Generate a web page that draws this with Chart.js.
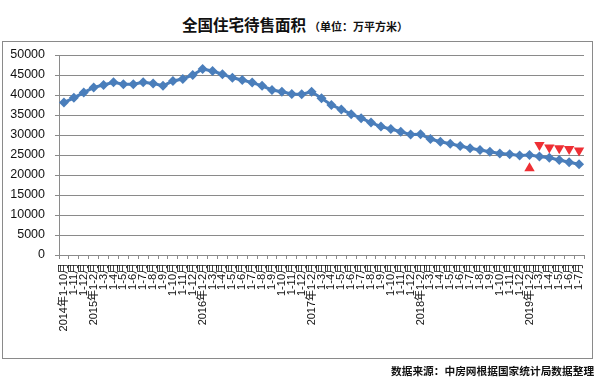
<!DOCTYPE html>
<html>
<head>
<meta charset="utf-8">
<script src="https://cdn.jsdelivr.net/npm/chart.js@4.4.1/dist/chart.umd.min.js"></script>
<style>
  html, body { margin:0; padding:0; background:#fff; }
  #wrap { position:relative; width:600px; height:382px; overflow:hidden; }
  #frame { position:absolute; left:2px; top:41px; width:591px; height:318px; border:1px solid #8a8a8a; box-sizing:border-box; }
  #title { position:absolute; left:0; top:15px; width:600px; text-align:left; white-space:nowrap;
           font-family:"Noto Sans CJK SC", sans-serif; font-weight:bold; color:#111; }
  #title .main { position:absolute; left:182px; top:0; font-size:15.5px; line-height:18px; }
  #title .sub { position:absolute; left:309px; top:4px; font-size:11px; line-height:14px; }
  #source { position:absolute; left:391px; top:363px; font-family:"Noto Sans CJK SC", sans-serif;
            font-weight:bold; font-size:10.7px; line-height:16px; color:#111; white-space:nowrap; }
  canvas { position:absolute; left:0; top:0; }
</style>
</head>
<body>
<div id="wrap">
  <div id="frame"></div>
  <div id="title"><span class="main">全国住宅待售面积</span><span class="sub">（单位：万平方米）</span></div>
  <canvas id="c" width="600" height="382"></canvas>
  <div id="source">数据来源：中房网根据国家统计局数据整理</div>
</div>
<script>
// ---- data ----
const categories = [
  '2014年1-10月','1-11月','1-12月',
  '2015年1-2月','1-3月','1-4月','1-5月','1-6月','1-7月','1-8月','1-9月','1-10月','1-11月','1-12月',
  '2016年1-2月','1-3月','1-4月','1-5月','1-6月','1-7月','1-8月','1-9月','1-10月','1-11月','1-12月',
  '2017年1-2月','1-3月','1-4月','1-5月','1-6月','1-7月','1-8月','1-9月','1-10月','1-11月','1-12月',
  '2018年1-2月','1-3月','1-4月','1-5月','1-6月','1-7月','1-8月','1-9月','1-10月','1-11月','1-12月',
  '2019年1-2月','1-3月','1-4月','1-5月','1-6月','1-7月'
];
const areaForSale = [
  38100, 39300, 40600,
  41900, 42500, 43200, 42700, 42700, 43200, 42900, 42300, 43500, 44000, 45000,
  46500, 46000, 45200, 44300, 43750, 43100, 42300, 41250, 40800, 40250, 40200,
  40800, 39200, 37500, 36400, 35200, 34200, 33100, 32100, 31500, 30800, 30100,
  30200, 29000, 28300, 27800, 27250, 26700, 26250, 25800, 25400, 25200, 24900,
  25000, 24600, 24300, 23750, 23200, 22700
];
const upMarks = [
  null, null, null,
  null, null, null, null, null, null, null, null, null, null, null,
  null, null, null, null, null, null, null, null, null, null, null,
  null, null, null, null, null, null, null, null, null, null, null,
  null, null, null, null, null, null, null, null, null, null, null,
  21700, null, null, null, null, null
];
const downMarks = [
  null, null, null,
  null, null, null, null, null, null, null, null, null, null, null,
  null, null, null, null, null, null, null, null, null, null, null,
  null, null, null, null, null, null, null, null, null, null, null,
  null, null, null, null, null, null, null, null, null, null, null,
  null, 27500, 26900, 26700, 26500, 26100
];
const yTicks = [0, 5000, 10000, 15000, 20000, 25000, 30000, 35000, 40000, 45000, 50000];

// ---- chart ----
const gridGray = '#8a8a8a';
new Chart(document.getElementById('c'), {
  type: 'line',
  data: {
    labels: categories,
    datasets: [
      {
        data: areaForSale,
        borderColor: '#4a7ebb',
        backgroundColor: '#4a7ebb',
        borderWidth: 3,
        pointStyle: 'rectRot',
        pointRadius: 5,
        pointBorderWidth: 0,
        tension: 0,
        order: 2
      },
      {
        data: upMarks,
        showLine: false,
        pointStyle: 'triangle',
        pointRadius: 6,
        pointBorderWidth: 0,
        backgroundColor: '#ee2f34',
        borderColor: '#ee2f34',
        order: 1
      },
      {
        data: downMarks,
        showLine: false,
        pointStyle: 'triangle',
        pointRotation: 180,
        pointRadius: 6,
        pointBorderWidth: 0,
        backgroundColor: '#ee2f34',
        borderColor: '#ee2f34',
        order: 1
      }
    ]
  },
  options: {
    responsive: false,
    animation: false,
    devicePixelRatio: 1,
    layout: { padding: { top: 55, left: 0, right: 16, bottom: 27 } },
    plugins: { legend: { display: false }, tooltip: { enabled: false }, title: { display: false } },
    scales: {
      x: {
        type: 'category',
        offset: true,
        afterFit: (s) => { s.height = 100; },
        border: { display: true, color: gridGray, width: 1 },
        grid: { display: true, offset: true, drawOnChartArea: false, drawTicks: true, tickLength: 4, color: gridGray },
        ticks: {
          autoSkip: false, maxRotation: 90, minRotation: 90, padding: 4,
          color: '#111',
          font: { family: '"Liberation Sans", "Noto Sans CJK SC", sans-serif', size: 11 }
        }
      },
      y: {
        min: 0, max: 50000,
        afterFit: (s) => { s.width = 59; },
        afterBuildTicks: (s) => { s.ticks = yTicks.map(v => ({ value: v })); },
        border: { display: true, color: gridGray, width: 1 },
        grid: { color: gridGray, drawTicks: true, tickLength: 4, lineWidth: 1 },
        ticks: {
          padding: 10,
          color: '#111',
          callback: (v) => String(v),
          font: { family: '"Liberation Sans", Arial, sans-serif', size: 12.5 }
        }
      }
    }
  }
});
</script>
</body>
</html>
